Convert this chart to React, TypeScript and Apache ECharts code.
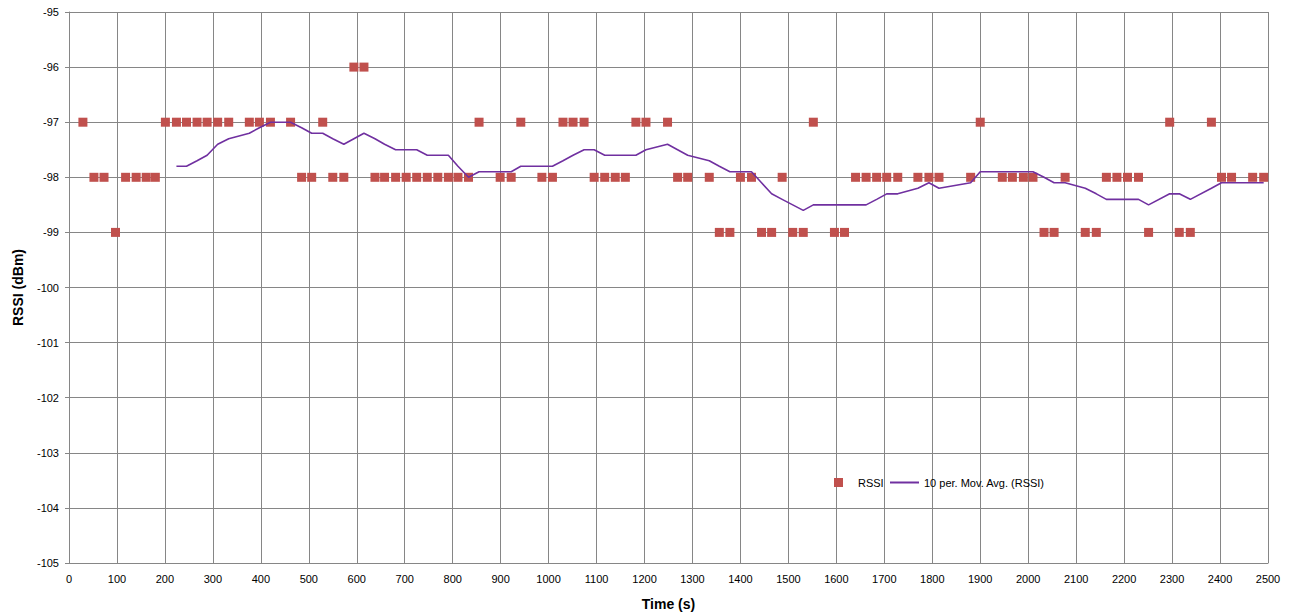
import React, { useEffect, useRef } from "react";
import * as echarts from "echarts";

const timeSec: number[] = [
  29, 52, 73, 97, 118, 140, 161, 180, 201, 224,
  245, 267, 288, 310, 333, 376, 397, 420, 462, 485,
  506, 529, 550, 573, 594, 615, 638, 658, 681, 703,
  725, 747, 769, 791, 811, 833, 855, 899, 922, 942,
  986, 1008, 1030, 1051, 1074, 1095, 1117, 1139, 1160, 1182,
  1203, 1248, 1269, 1290, 1335, 1356, 1378, 1400, 1423, 1444,
  1465, 1487, 1509, 1531, 1552, 1596, 1617, 1640, 1662, 1684,
  1705, 1728, 1770, 1793, 1814, 1880, 1900, 1946, 1967, 1990,
  2010, 2033, 2054, 2077, 2119, 2142, 2163, 2185, 2207, 2230,
  2251, 2295, 2315, 2338, 2382, 2403, 2424, 2468, 2491,
];

const rssi: number[] = [
  -97, -98, -98, -99, -98, -98, -98, -98, -97, -97,
  -97, -97, -97, -97, -97, -97, -97, -97, -97, -98,
  -98, -97, -98, -98, -96, -96, -98, -98, -98, -98,
  -98, -98, -98, -98, -98, -98, -97, -98, -98, -97,
  -98, -98, -97, -97, -97, -98, -98, -98, -98, -97,
  -97, -97, -98, -98, -98, -99, -99, -98, -98, -99,
  -99, -98, -99, -99, -97, -99, -99, -98, -98, -98,
  -98, -98, -98, -98, -98, -98, -97, -98, -98, -98,
  -98, -99, -99, -98, -99, -99, -98, -98, -98, -98,
  -99, -97, -99, -99, -97, -98, -98, -98, -98,
];

const MA_PERIOD = 10;
const seriesNames = ["RSSI", "10 per. Mov. Avg. (RSSI)"];

const xMin = 0, xMax = 2500, xStep = 100;
const yMin = -105, yMax = -95, yStep = 1;

export default function App() {
  const ref = useRef<HTMLDivElement>(null);
  useEffect(() => {
    document.body.style.margin = "0";
    if (!ref.current) return;
    const chart = echarts.init(ref.current, undefined, { renderer: "svg" });

    const scatterData = timeSec.map((t, i) => [t, rssi[i]]);
    const maData: number[][] = [];
    for (let i = MA_PERIOD - 1; i < rssi.length; i++) {
      let s = 0;
      for (let k = i - MA_PERIOD + 1; k <= i; k++) s += rssi[k];
      maData.push([timeSec[i], Math.round((s / MA_PERIOD) * 10) / 10]);
    }

    const font = "'Liberation Sans', Arial, sans-serif";
    const gridColor = "#868686";

    chart.setOption({
      animation: false,
      backgroundColor: "#ffffff",
      textStyle: { fontFamily: font },
      grid: { left: 69, right: 23, top: 12, bottom: 53, containLabel: false },
      legend: [
        {
          data: [{ name: seriesNames[0], icon: "rect", itemStyle: { color: "#C0504D", opacity: 1 } }],
          left: 829,
          top: 472,
          itemWidth: 9,
          itemHeight: 9,
          textStyle: { fontSize: 11, color: "#000", fontFamily: font, padding: [0, 0, 0, 10] },
        },
        {
          data: [{ name: seriesNames[1], icon: "rect" }],
          left: 885,
          top: 472,
          itemWidth: 29,
          itemHeight: 2,
          textStyle: { fontSize: 11, color: "#000", fontFamily: font },
        },
      ],
      xAxis: {
        type: "value",
        min: xMin,
        max: xMax,
        interval: xStep,
        name: "Time (s)",
        nameLocation: "middle",
        nameGap: 34,
        nameTextStyle: { fontSize: 14, fontWeight: "bold", color: "#000", fontFamily: font },
        axisLine: { show: true, lineStyle: { color: gridColor, width: 1 } },
        axisTick: { show: false },
        axisLabel: { fontSize: 11, color: "#000", margin: 10, fontFamily: font, formatter: (v: number) => String(v) },
        splitLine: { show: true, lineStyle: { color: gridColor, width: 1 } },
      },
      yAxis: {
        type: "value",
        min: yMin,
        max: yMax,
        interval: yStep,
        name: "RSSI (dBm)",
        nameLocation: "middle",
        nameGap: 44,
        nameRotate: 90,
        nameTextStyle: { fontSize: 14, fontWeight: "bold", color: "#000", fontFamily: font },
        axisLine: { show: true, lineStyle: { color: gridColor, width: 1 } },
        axisTick: { show: true, length: 4, inside: false, lineStyle: { color: gridColor } },
        axisLabel: { fontSize: 11, color: "#000", margin: 10, fontFamily: font, formatter: (v: number) => String(v) },
        splitLine: { show: true, lineStyle: { color: gridColor, width: 1 } },
      },
      series: [
        {
          name: seriesNames[0],
          type: "scatter",
          symbol: "rect",
          symbolSize: 9,
          itemStyle: { color: "#C0504D", opacity: 1 },
          data: scatterData,
          z: 3,
        },
        {
          name: seriesNames[1],
          type: "line",
          showSymbol: false,
          symbol: "none",
          lineStyle: { color: "#7030A0", width: 1.6 },
          itemStyle: { color: "#7030A0" },
          data: maData,
          z: 4,
        },
      ],
    });
    return () => chart.dispose();
  }, []);
  return <div ref={ref} style={{ width: 1291, height: 616 }} />;
}
